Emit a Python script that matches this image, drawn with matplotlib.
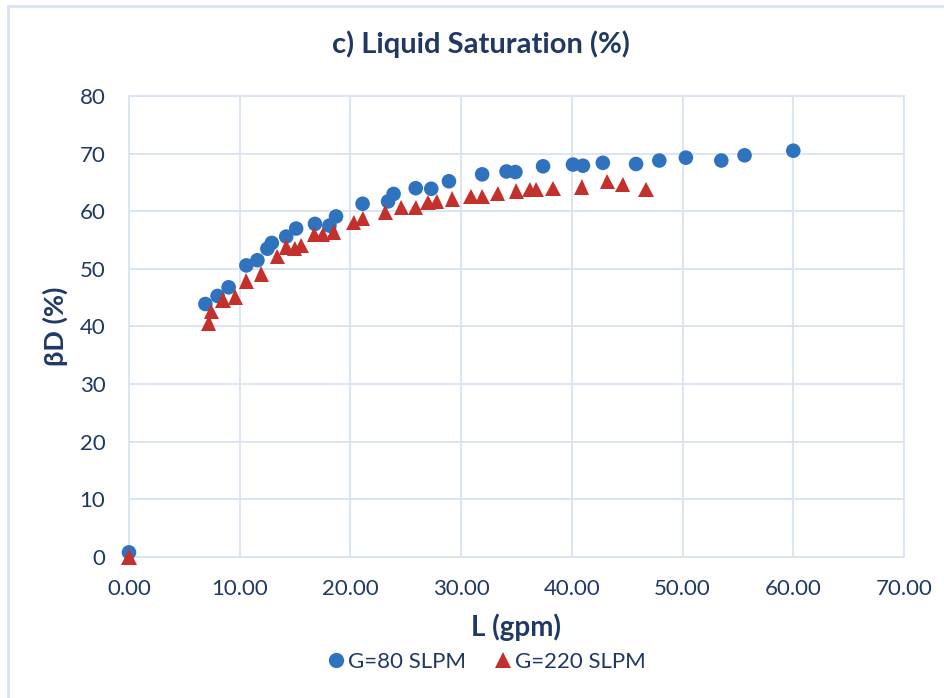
import matplotlib.pyplot as plt
import matplotlib.patheffects as pe
from matplotlib.lines import Line2D

# Liquid flow rate L (gpm) and liquid saturation beta_D (%)
blue_L = [0.0, 6.9, 8.0, 9.0, 10.6, 11.6, 12.5, 12.9, 14.2, 15.1, 16.8, 18.1, 18.7,
          21.1, 23.4, 23.9, 25.9, 27.3, 28.9, 31.9, 34.1, 34.9, 37.4, 40.1, 41.0,
          42.8, 45.8, 47.9, 50.3, 53.5, 55.6, 60.0]
blue_B = [0.8, 43.9, 45.3, 46.8, 50.6, 51.5, 53.5, 54.5, 55.6, 57.0, 57.8, 57.5, 59.1,
          61.3, 61.7, 63.0, 64.0, 63.9, 65.2, 66.4, 66.9, 66.8, 67.8, 68.1, 67.9,
          68.4, 68.2, 68.8, 69.3, 68.8, 69.7, 70.5]

red_L = [0.0, 7.2, 7.45, 8.5, 9.6, 10.6, 11.95, 13.4, 14.2, 14.95, 15.55, 16.75, 17.5,
         18.5, 20.3, 21.1, 23.15, 24.6, 25.9, 27.0, 27.8, 29.2, 30.9, 31.9, 33.3,
         35.0, 36.2, 36.8, 38.3, 40.9, 43.2, 44.6, 46.7]
red_B = [0.0, 40.6, 42.6, 44.6, 45.1, 47.9, 49.1, 52.1, 53.8, 53.5, 54.1, 56.0, 56.0,
         56.4, 58.0, 58.8, 59.8, 60.7, 60.7, 61.5, 61.7, 62.1, 62.6, 62.6, 63.1,
         63.5, 63.8, 63.8, 64.0, 64.2, 65.2, 64.7, 63.8]

x_ticks = [0, 10, 20, 30, 40, 50, 60, 70]
y_ticks = [0, 10, 20, 30, 40, 50, 60, 70, 80]

navy = "#203864"
grid_c = "#D9E3F3"
blue = "#2F72BD"
red = "#C4302B"

plt.rcParams["font.family"] = ["Lato", "DejaVu Sans"]

fig = plt.figure(figsize=(9.45, 6.98), dpi=100)
ax = fig.add_axes([0.1365, 0.202, 0.8201, 0.6605])

shadow = [pe.SimpleLineShadow(offset=(1.5, -2), shadow_color="#555555", alpha=0.35), pe.Normal()]

ax.plot(blue_L, blue_B, "o", color=blue, markersize=10.5, markeredgewidth=0,
        clip_on=False, zorder=3, path_effects=shadow)
ax.plot(red_L, red_B, "^", color=red, markersize=11, markeredgewidth=0,
        clip_on=False, zorder=4, path_effects=shadow)

ax.set_xlim(0, 70)
ax.set_ylim(0, 80)
ax.set_xticks(x_ticks)
ax.set_yticks(y_ticks)
ax.set_xticklabels([f"{v:.2f}" for v in x_ticks])
ax.set_yticklabels([str(v) for v in y_ticks])
ax.tick_params(length=0, labelsize=16, labelcolor=navy)
ax.tick_params(axis="x", pad=16)
ax.tick_params(axis="y", pad=17)
ax.grid(True, color=grid_c, linewidth=1.3)
ax.set_axisbelow(True)
for s in ax.spines.values():
    s.set_color(grid_c)
    s.set_linewidth(1.3)

ax.set_title("c) Liquid Saturation (%)", fontsize=21, fontweight="bold", color=navy,
             pad=31, x=0.454)
ax.set_xlabel("L (gpm)", fontsize=20, fontweight="bold", color=navy, labelpad=10)
ax.set_ylabel("βD (%)", fontsize=19.5, fontweight="bold", color=navy, labelpad=8)

handles = [
    Line2D([], [], marker="o", linestyle="", color=blue, markersize=11, markeredgewidth=0),
    Line2D([], [], marker="^", linestyle="", color=red, markersize=11.5, markeredgewidth=0),
]
leg = fig.legend(handles, ["G=80 SLPM", "G=220 SLPM"], loc="center",
                 bbox_to_anchor=(0.513, 0.052), ncol=2, frameon=False,
                 fontsize=16, handletextpad=0.0, columnspacing=1.1, handlelength=1.1)
for t in leg.get_texts():
    t.set_color(navy)

# light border on top and left of the chart area
fig.add_artist(Line2D([0.0085, 0.0085], [0, 0.991], transform=fig.transFigure, color=grid_c, linewidth=2))
fig.add_artist(Line2D([0.0085, 1.0], [0.991, 0.991], transform=fig.transFigure, color=grid_c, linewidth=2))

fig.savefig("out.png", dpi=100)
